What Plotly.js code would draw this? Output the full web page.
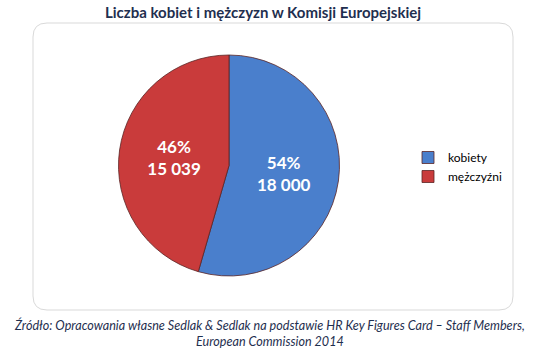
<!DOCTYPE html>
<html>
<head>
<meta charset="utf-8">
<script src="https://cdn.plot.ly/plotly-3.0.1.min.js"></script>
<style>
html,body{margin:0;padding:0;background:#fff;}
#chart{width:540px;height:353px;}
</style>
</head>
<body>
<div id="chart"></div>
<script>
const labels = ["kobiety", "mężczyźni"];
const values = [18000, 15039];
const colors = ["#4A7FCC", "#C93B3B"];
const titleText = "Liczba kobiet i mężczyzn w Komisji Europejskiej";
const sourceText = "Źródło: Opracowania własne Sedlak & Sedlak na podstawie HR Key Figures Card – Staff Members,<br>European Commission 2014";

const W = 540, H = 353;
const px = x => x / W;
const py = y => 1 - y / H;

function roundRect(x0, y0, x1, y1, r) {
  const rx = r / W, ry = r / H;
  const X0 = px(x0), X1 = px(x1), Y0 = py(y0), Y1 = py(y1);
  return `M ${X0 + rx},${Y0} L ${X1 - rx},${Y0} Q ${X1},${Y0} ${X1},${Y0 - ry} ` +
         `L ${X1},${Y1 + ry} Q ${X1},${Y1} ${X1 - rx},${Y1} ` +
         `L ${X0 + rx},${Y1} Q ${X0},${Y1} ${X0},${Y1 + ry} ` +
         `L ${X0},${Y0 - ry} Q ${X0},${Y0} ${X0 + rx},${Y0} Z`;
}

const trace = {
  type: "pie",
  labels: labels,
  values: values,
  sort: false,
  direction: "clockwise",
  rotation: 0,
  marker: { colors: colors, line: { color: "#5a2525", width: 0.8 } },
  textposition: "inside",
  insidetextorientation: "horizontal",
  texttemplate: "%{percent:.0%}<br>%{value:,}",
  textfont: { family: "Lato, 'Open Sans', sans-serif", size: 17, color: "#ffffff", weight: "bold" },
  hoverinfo: "none",
  domain: { x: [px(118), px(340)], y: [py(276), py(55)] }
};

const layout = {
  width: W, height: H,
  margin: { l: 0, r: 0, t: 0, b: 0 },
  paper_bgcolor: "#ffffff",
  separators: ", ",
  showlegend: true,
  legend: {
    x: px(408), y: py(143), xanchor: "left", yanchor: "top",
    font: { family: "Lato, 'Open Sans', sans-serif", size: 12, color: "#000000" },
    itemwidth: 30, tracegroupgap: 6, bgcolor: "rgba(0,0,0,0)"
  },
  shapes: [{
    type: "path", xref: "paper", yref: "paper",
    path: roundRect(33, 23, 513, 310, 14),
    line: { color: "#d9d9d9", width: 1 }, layer: "below"
  }],
  annotations: [
    {
      text: "<b>" + titleText + "</b>", xref: "paper", yref: "paper",
      x: px(263), y: py(12), xanchor: "center", yanchor: "middle", showarrow: false,
      font: { family: "Lato, 'Open Sans', sans-serif", size: 15, color: "#1F2F4F" }
    },
    {
      text: "<i>" + sourceText + "</i>", xref: "paper", yref: "paper",
      x: px(269), y: py(333), xanchor: "center", yanchor: "middle", showarrow: false,
      font: { family: "Lato, 'Open Sans', sans-serif", size: 12.6, color: "#1F2F4F" }
    }
  ]
};

Plotly.newPlot("chart", [trace], layout, { displayModeBar: false, staticPlot: true });
</script>
</body>
</html>
